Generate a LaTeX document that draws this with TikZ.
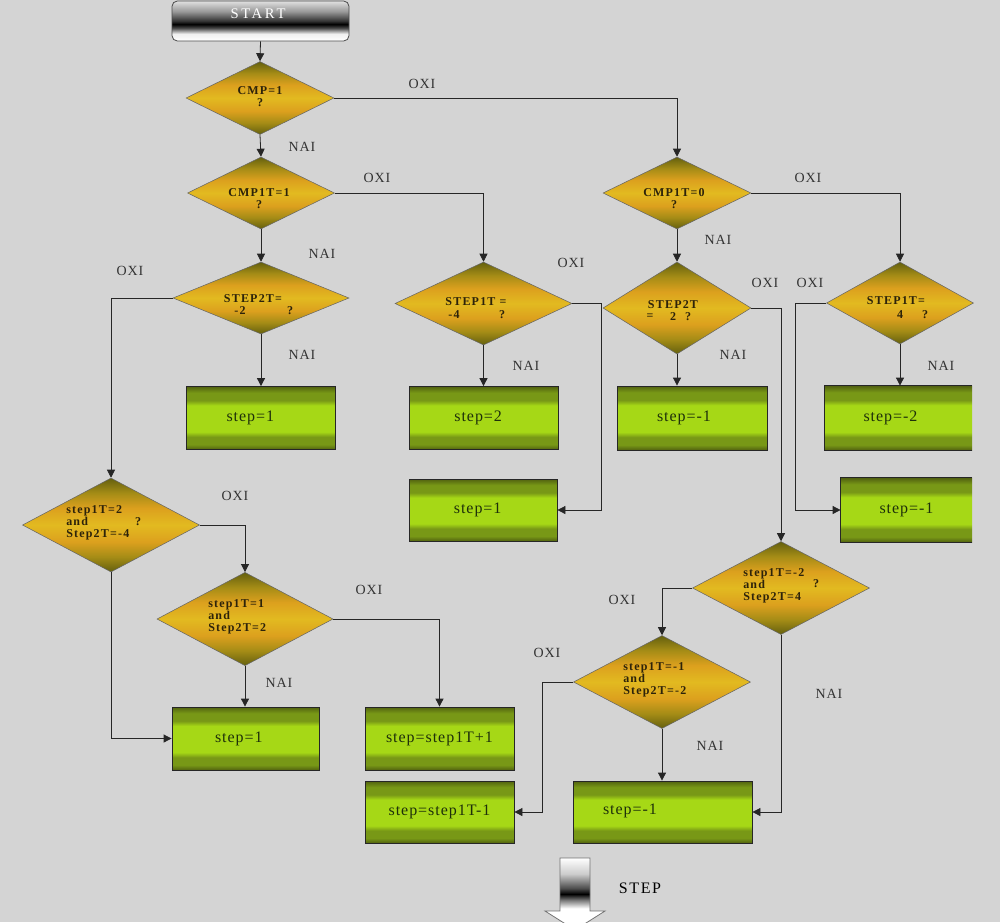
\documentclass[tikz,border=0pt]{standalone}
\usepackage{fontspec}
\setmainfont{Liberation Serif}
\usetikzlibrary{shapes.geometric,arrows.meta,calc}
\definecolor{bg}{RGB}{212,212,212}
\definecolor{ddk}{RGB}{100,96,14}
\definecolor{dol}{RGB}{165,140,22}
\definecolor{dgd}{RGB}{220,160,30}
\definecolor{dyl}{RGB}{226,186,32}
\definecolor{gdk}{RGB}{82,98,16}
\definecolor{gmd}{RGB}{120,152,22}
\definecolor{glm}{RGB}{166,216,22}
\definecolor{dtxt}{RGB}{45,35,10}
\definecolor{btxt}{RGB}{30,48,10}
\pgfdeclareverticalshading{dshade}{100bp}{color(0bp)=(ddk); color(25bp)=(ddk); color(33bp)=(dol); color(41bp)=(dgd); color(50bp)=(dyl); color(59bp)=(dgd); color(67bp)=(dol); color(75bp)=(ddk); color(100bp)=(ddk)}
\pgfdeclareverticalshading{bshade}{100bp}{color(0bp)=(gdk); color(25bp)=(gdk); color(29bp)=(gmd); color(35bp)=(gmd); color(39bp)=(glm); color(60bp)=(glm); color(64bp)=(gmd); color(70bp)=(gmd); color(75bp)=(gdk); color(100bp)=(gdk)}
\pgfdeclareverticalshading{sshade}{100bp}{color(0bp)=(white); color(25bp)=(white); color(34bp)=(black!6); color(41bp)=(black!70); color(46bp)=(black); color(50bp)=(black!80); color(62bp)=(black!40); color(75bp)=(black!12); color(100bp)=(black!12)}
\pgfdeclareverticalshading{ashade}{100bp}{color(0bp)=(white); color(25bp)=(white); color(40bp)=(white); color(46bp)=(black!55); color(50bp)=(black); color(54bp)=(black!70); color(64bp)=(black!20); color(75bp)=(white); color(100bp)=(white)}
\begin{document}
\begin{tikzpicture}[x=0.75pt,y=-0.75pt,
  dia/.style={diamond, draw=black!60, line width=0.4pt, shading=dshade, inner sep=0pt},
  box/.style={rectangle, draw=black!85, line width=0.6pt, shading=bshade, inner sep=0pt, font=\fontsize{12}{14}\selectfont\addfontfeatures{LetterSpace=6}, text=btxt},
  btx/.style={font=\fontsize{12}{14}\selectfont\addfontfeatures{LetterSpace=6}, text=btxt, inner sep=0pt},
  dtx/.style={font=\fontsize{9}{9}\selectfont\bfseries\addfontfeatures{LetterSpace=10}, text=dtxt, inner sep=0pt, align=left},
  lab/.style={font=\fontsize{10.5}{12}\selectfont\addfontfeatures{LetterSpace=6}, text=black!80, inner sep=0pt},
  edge3/.style={draw=black!85, line width=0.6pt},
  conn/.style={draw=black!85, line width=0.6pt},
  arr/.style={conn, -{Triangle[length=6pt,width=6pt]}}]
\useasboundingbox (0,0) rectangle (1000,922);
\fill[bg] (0,0) rectangle (1000,922);
\clip (0,0) rectangle (1000,922);

% start
\node[rectangle, rounded corners=4pt, draw=black!70, line width=0.6pt, shading=sshade,
  minimum width=132.75pt, minimum height=30pt, inner sep=0pt] (start) at (260.5,21) {};
\node[font=\fontsize{11}{12}\selectfont\addfontfeatures{LetterSpace=18}, text=white, inner sep=0pt] (starttxt) at (258,13.5) {START};

% diamonds
\node[dia, minimum width=111pt, minimum height=54.75pt] (d1) at (260,98) {};
\node[dia, minimum width=110.25pt, minimum height=54pt] (d2) at (261,193) {};
\node[dia, minimum width=111pt, minimum height=54pt] (d3) at (677,193) {};
\node[dia, minimum width=132pt, minimum height=54pt] (d4) at (261,298) {};
\node[dia, minimum width=132.75pt, minimum height=62.25pt] (d5) at (483.5,303.5) {};
\node[dia, minimum width=111pt, minimum height=69pt] (d6) at (677,308) {};
\node[dia, minimum width=110.25pt, minimum height=61.5pt] (d7) at (900,303) {};
\node[dia, minimum width=132.75pt, minimum height=70.5pt] (d8) at (111,525) {};
\node[dia, minimum width=132pt, minimum height=70pt] (d9) at (245,619) {};
\node[dia, minimum width=132.75pt, minimum height=69.75pt] (d10) at (781,588) {};
\node[dia, minimum width=132.75pt, minimum height=69.75pt] (d11) at (662,682) {};

% diamond texts
\node[dtx, align=center] (t1) at (260,97) {CMP=1\\?};
\node[dtx, align=center] (t2) at (259,198.5) {CMP1T=1\\?};
\node[dtx, align=center] (t3) at (674,199) {CMP1T=0\\?};
\node[dtx] (t4a) at (253,299) {STEP2T=};
\node[dtx] (t4b) at (240,311) {-2};
\node[dtx] (t4c) at (290,311) {?};
\node[dtx] (t5a) at (476,302) {STEP1T =};
\node[dtx] (t5b) at (454,315) {-4};
\node[dtx] (t5c) at (502,315) {?};
\node[dtx] (t6a) at (673,305) {STEP2T};
\node[dtx] (t6b) at (650,317) {=};
\node[dtx] (t6c) at (673,317) {2};
\node[dtx] (t6d) at (688,317) {?};
\node[dtx] (t7a) at (896,301) {STEP1T=};
\node[dtx] (t7b) at (900,315) {4};
\node[dtx] (t7c) at (925,315) {?};
\node[dtx, anchor=west] (t8) at (66,523) {step1T=2\\and\\Step2T=-4};
\node[dtx] (t8q) at (138,522) {?};
\node[dtx, anchor=west] (t9) at (208,617) {step1T=1\\and\\Step2T=2};
\node[dtx, anchor=west] (t10) at (743,585.5) {step1T=-2\\and\\Step2T=4};
\node[dtx] (t10q) at (816,584) {?};
\node[dtx, anchor=west] (t11) at (623,679.5) {step1T=-1\\and\\Step2T=-2};

% boxes
\node[box, minimum width=111.75pt, minimum height=47.25pt] (b1) at (261,418) {\hspace*{-16pt}step=1};
\node[box, minimum width=111.75pt, minimum height=47.25pt] (b2) at (483.5,418) {\hspace*{-8pt}step=2};
\node[box, minimum width=112.5pt, minimum height=48pt] (b3) at (692,418) {\hspace*{-12pt}step=-1};
\node[box, draw=none, minimum width=110.25pt, minimum height=48pt] (b4) at (898.5,418) {\hspace*{-12pt}step=-2};
\node[box, minimum width=111pt, minimum height=46.5pt] (b5) at (483,510) {\hspace*{-8pt}step=1};
\node[box, draw=none, minimum width=98.25pt, minimum height=48pt] (b6) at (906.5,510) {step=-1};
\node[box, minimum width=110.25pt, minimum height=47.25pt] (b7) at (245.5,738.5) {\hspace*{-10pt}step=1};
\node[box, minimum width=111.75pt, minimum height=47.25pt] (b8) at (439.5,738.5) {step=step1T+1};
\node[box, minimum width=111.75pt, minimum height=46.5pt] (b9) at (439.5,812) {step=step1T-1};
\node[box, minimum width=134.25pt, minimum height=46.5pt] (b10) at (662.5,812) {};
\node[btx] (t10b) at (630,811) {step=-1};
\draw[edge3] (b4.north east) -- (b4.north west) -- (b4.south west) -- (b4.south east);
\draw[edge3] (b6.north east) -- (b6.north west) -- (b6.south west) -- (b6.south east);

% connectors
\draw[arr] (start.south) -- (d1.north);
\draw[arr] (d1.south) -- (d2.north);
\draw[arr] (d1.east) -| (d3.north);
\draw[arr] (d2.south) -- (d4.north);
\draw[arr] (d2.east) -| (d5.north);
\draw[arr] (d3.south) -- (d6.north);
\draw[arr] (d3.east) -| (d7.north);
\draw[arr] (d4.south) -- (b1.north);
\draw[arr] (d5.south) -- (b2.north);
\draw[arr] (d6.south) -- (d6.south |- b3.north);
\draw[arr] (d7.south) -- (d7.south |- b4.north);
\draw[arr] (d4.west) -| (d8.north);
\draw[arr] (d5.east) -- ++(29,0) |- (b5.east);
\draw[arr] (d6.east) -| (d10.north);
\draw[arr] (d7.west) -- ++(-31,0) |- (b6.west);
\draw[arr] (d8.east) -| (d9.north);
\draw[arr] (d8.south) |- (b7.west);
\draw[arr] (d9.south) -- (d9.south |- b7.north);
\draw[arr] (d9.east) -| (b8.north);
\draw[arr] (d10.west) -| (d11.north);
\draw[arr] (d10.south) |- (b10.east);
\draw[arr] (d11.south) -- (d11.south |- b10.north);
\draw[arr] (d11.west) -- ++(-31,0) |- (b9.east);

% labels
\node[lab] (l1) at (422,84) {OXI};
\node[lab] (l2) at (302,147) {NAI};
\node[lab] (l3) at (377,178) {OXI};
\node[lab] (l4) at (322,254) {NAI};
\node[lab] (l5) at (808,178) {OXI};
\node[lab] (l6) at (718,240) {NAI};
\node[lab] (l7) at (130,271) {OXI};
\node[lab] (l8) at (571,263) {OXI};
\node[lab] (l9) at (765,283) {OXI};
\node[lab] (l10) at (810,283) {OXI};
\node[lab] (l11) at (302,355) {NAI};
\node[lab] (l12) at (526,366) {NAI};
\node[lab] (l13) at (733,355) {NAI};
\node[lab] (l14) at (941,366) {NAI};
\node[lab] (l15) at (235,496) {OXI};
\node[lab] (l16) at (369,590) {OXI};
\node[lab] (l17) at (279,683) {NAI};
\node[lab] (l18) at (622,600) {OXI};
\node[lab] (l19) at (547,653) {OXI};
\node[lab] (l20) at (829,694) {NAI};
\node[lab] (l21) at (710,746) {NAI};

% bottom block arrow
\path[shading=ashade, draw=black!55, line width=0.6pt]
  (560,858) -- (590,858) -- (590,911) -- (605,911) -- (575,930) -- (545,911) -- (560,911) -- cycle;
\node[font=\fontsize{12}{14}\selectfont\addfontfeatures{LetterSpace=10}, text=black, inner sep=0pt] (stepl) at (640,888) {STEP};
\end{tikzpicture}
\end{document}
